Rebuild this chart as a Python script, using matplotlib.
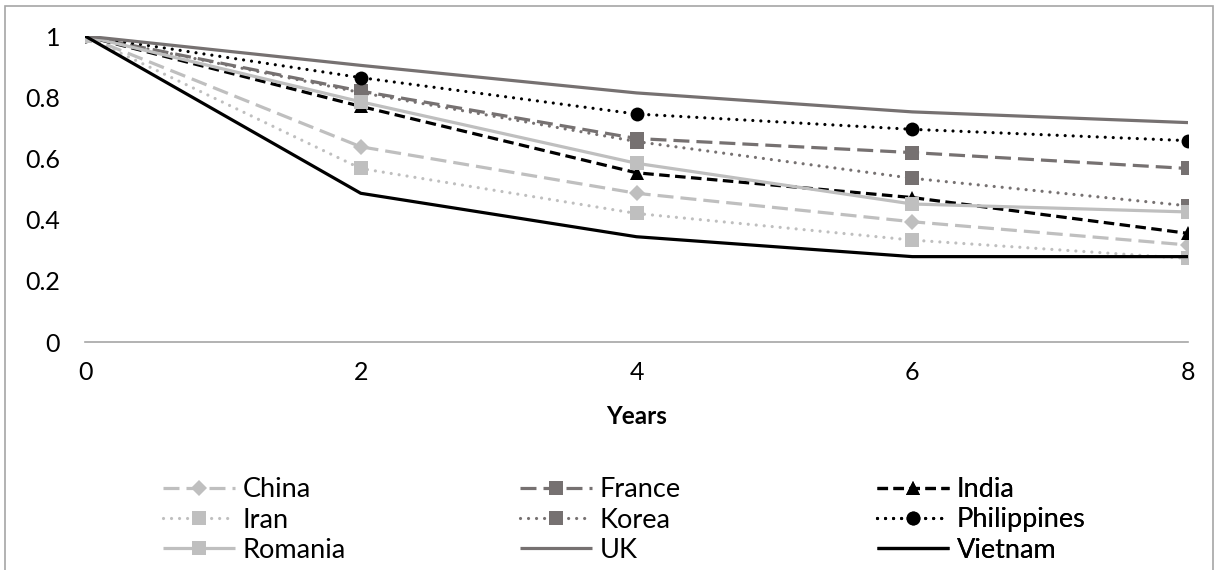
import matplotlib.pyplot as plt
from matplotlib.patches import Rectangle

plt.rcParams['font.family'] = ['Lato', 'DejaVu Sans']

# data
years = [0, 2, 4, 6, 8]
china = [1, 0.638, 0.486, 0.393, 0.317]
france = [1, 0.82, 0.665, 0.619, 0.567]
india = [1, 0.77, 0.553, 0.472, 0.355]
iran = [1, 0.567, 0.42, 0.333, 0.273]
korea = [1, 0.815, 0.655, 0.535, 0.445]
philippines = [1, 0.864, 0.745, 0.695, 0.658]
romania = [1, 0.785, 0.584, 0.451, 0.425]
uk = [1, 0.904, 0.814, 0.752, 0.717]
vietnam = [1, 0.486, 0.344, 0.279, 0.279]

light = '#BFBFBF'
dark = '#767171'
black = '#000000'

W, H = 1221, 570
fig = plt.figure(figsize=(W / 100, H / 100), dpi=100)
ax = fig.add_axes([85 / W, 1 - 342 / H, (1188 - 85) / W, (342 - 36) / H])

lw = 2.3
dash_long = (5.0, 2.2)
dash_short = (3.3, 1.7)
dot = (0.01, 2.5)

series = [
    ('China', china, light, dash_long, 'D', 8),
    ('France', france, dark, dash_long, 's', 9.5),
    ('India', india, black, dash_short, '^', 9.5),
    ('Iran', iran, light, dot, 's', 9.5),
    ('Korea', korea, dark, dot, 's', 9.5),
    ('Philippines', philippines, black, dot, 'o', 10),
    ('Romania', romania, light, None, 's', 9.5),
    ('UK', uk, dark, None, None, 0),
    ('Vietnam', vietnam, black, None, None, 0),
]

handles = []
for name, vals, col, dashes, mk, ms in series:
    line, = ax.plot(years, vals, color=col, lw=lw, marker=mk, markersize=ms,
                    markeredgewidth=0, label=name, solid_capstyle='butt')
    if dashes is not None:
        line.set_dashes(dashes)
        if dashes == dot:
            line.set_dash_capstyle('round')
        else:
            line.set_dash_capstyle('butt')
    handles.append(line)

ax.set_xlim(0, 8)
ax.set_ylim(0, 1)
ax.set_xticks(years)
ax.set_yticks([0, 0.2, 0.4, 0.6, 0.8, 1])
ax.set_yticklabels(['0', '0.2', '0.4', '0.6', '0.8', '1'])
ax.tick_params(length=0, labelsize=18, colors='#000000')
ax.tick_params(axis='x', pad=14)
ax.tick_params(axis='y', pad=18)
for s in ['top', 'right', 'left']:
    ax.spines[s].set_visible(False)
ax.spines['bottom'].set_color('#A6A6A6')
ax.spines['bottom'].set_linewidth(1.2)
ax.set_xlabel('Years', fontsize=17.5, fontweight='bold', labelpad=15)

for lab in ax.get_xticklabels() + ax.get_yticklabels():
    lab.set_clip_on(False)

# legend: three columns, filled row by row like the original
col_x = [163, 520, 877]
for c in range(3):
    hs = handles[c::3]
    leg = ax.legend(handles=hs, loc='center left',
                    bbox_to_anchor=(col_x[c] / W, 1 - 520 / H),
                    bbox_transform=fig.transFigure, frameon=False, fontsize=19.5,
                    handlelength=2.65, handletextpad=0.3, labelspacing=0.2,
                    borderpad=0, borderaxespad=0)
    ax.add_artist(leg)

fig.patches.append(Rectangle((5 / W, -0.05), (1213 - 5) / W, 1 - 6 / H + 0.05,
                             transform=fig.transFigure, fill=False,
                             edgecolor='#A6A6A6', lw=1.2))

fig.savefig('out.png', dpi=100)
